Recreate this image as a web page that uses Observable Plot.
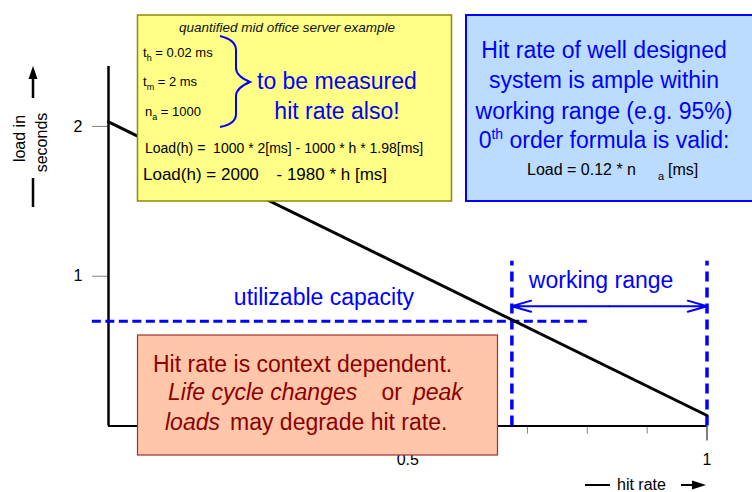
<!DOCTYPE html>
<html>
<head>
<meta charset="utf-8">
<script src="https://cdn.jsdelivr.net/npm/d3@7"></script>
<script src="https://cdn.jsdelivr.net/npm/@observablehq/plot@0.6"></script>
<style>
  html, body { margin: 0; padding: 0; background: #fff; }
  #wrap { position: relative; width: 752px; height: 492px; overflow: hidden; font-family: "Liberation Sans", Arial, sans-serif; }
  #wrap > svg { position: absolute; left: 0; top: 0; }
  #overlay { pointer-events: none; }
  #overlay text { font-family: "Liberation Sans", Arial, sans-serif; white-space: pre; }
</style>
</head>
<body>
<div id="wrap"></div>
<script>
// ---- data ----
const hitRate = [0, 1];                 // x: hit rate
const loadSeconds = [2.03, 0.07];       // y: load in seconds
const yTicks = [1, 2];
const xMajorTicks = [0.5, 1];
const xMinorTicks = [0.7, 0.8, 0.9];
const workingRange = [0.674, 1];        // hit-rate bounds of the working range
const workingRangeTop = 1.1;            // top of the dashed range markers
const workingArrowLevel = 0.80;
const capacityLevel = [0.70];           // utilizable capacity load
const capacitySpan = [-0.027, 0.80];
const labelWorking = {text: "working range", x: 0.823, y: 0.92};
const labelCapacity = {text: "utilizable capacity", x: 0.36, y: 0.81};

const lineData = hitRate.map((h, i) => ({h, load: loadSeconds[i]}));
const mid = (workingRange[0] + workingRange[1]) / 2;
const arrows = [
  {x1: mid, x2: workingRange[0], y: workingArrowLevel},
  {x1: mid, x2: workingRange[1], y: workingArrowLevel}
];
const fmt = d => String(d);

const chart = Plot.plot({
  width: 752,
  height: 492,
  marginLeft: 108,
  marginRight: 45.5,
  marginTop: 66,
  marginBottom: 66.5,
  x: {domain: [0, 1]},
  y: {domain: [0, 2.4]},
  style: {fontFamily: "'Liberation Sans', Arial, sans-serif", background: "white", overflow: "visible"},
  marks: [
    Plot.axisY(yTicks, {tickSize: 16, tickPadding: 10, stroke: "#808080", fill: "black", fontSize: 16, tickFormat: fmt, label: null}),
    Plot.axisX(xMinorTicks, {tickSize: 8, tickFormat: () => "", stroke: "#808080", label: null}),
    Plot.axisX(xMajorTicks, {tickSize: 15, tickPadding: 13, stroke: "black", fill: "black", fontSize: 16, tickFormat: fmt, label: null}),
    Plot.ruleY([0], {x1: 0, x2: 1, stroke: "black", strokeWidth: 2}),
    Plot.ruleX([0], {y1: 0, y2: 2.4, stroke: "black", strokeWidth: 2.5}),
    Plot.ruleY(capacityLevel, {x1: capacitySpan[0], x2: capacitySpan[1], stroke: "#0000ff", strokeWidth: 3, strokeDasharray: "9,4.5"}),
    Plot.ruleX(workingRange, {y1: 0, y2: workingRangeTop, stroke: "#0000ff", strokeWidth: 3.5, strokeDasharray: "10,6"}),
    Plot.arrow(arrows, {x1: "x1", x2: "x2", y1: "y", y2: "y", stroke: "#0000ff", strokeWidth: 2, headLength: 15, headAngle: 32}),
    Plot.line(lineData, {x: "h", y: "load", stroke: "black", strokeWidth: 3}),
    Plot.text([labelWorking, labelCapacity], {x: "x", y: "y", text: "text", fill: "#0000ff", fontSize: 23, lineAnchor: "bottom"})
  ]
});
document.getElementById("wrap").appendChild(chart);

// ---- annotation boxes and axis titles ----
const NS = "http://www.w3.org/2000/svg";
const overlay = document.createElementNS(NS, "svg");
overlay.setAttribute("id", "overlay");
overlay.setAttribute("width", 752);
overlay.setAttribute("height", 492);
overlay.innerHTML = `
  <!-- y axis title -->
  <text transform="translate(25,138.5) rotate(-90)" text-anchor="middle" font-size="16" fill="black">load in</text>
  <text transform="translate(46.5,142.5) rotate(-90)" text-anchor="middle" font-size="16" fill="black">seconds</text>
  <line x1="33" y1="98" x2="33" y2="76" stroke="black" stroke-width="2.5"/>
  <polygon points="33,66 28.5,79 37.5,79" fill="black"/>
  <line x1="33" y1="178" x2="33" y2="207" stroke="black" stroke-width="2.5"/>
  <!-- x axis title -->
  <line x1="585" y1="485" x2="610" y2="485" stroke="black" stroke-width="2"/>
  <text x="617" y="490" font-size="16" fill="black">hit rate</text>
  <line x1="681" y1="485" x2="694" y2="485" stroke="black" stroke-width="2"/>
  <polygon points="706,485 692,480.5 692,489.5" fill="black"/>

  <!-- yellow box -->
  <rect x="137.5" y="15" width="314" height="186" fill="#ffff88" stroke="#8c8c00" stroke-width="1.5"/>
  <text x="287" y="32" text-anchor="middle" font-size="13.5" font-style="italic" fill="#111">quantified mid office server example</text>
  <text x="143" y="56.5" font-size="13" fill="black">t<tspan font-size="9" dy="4">h</tspan><tspan dy="-4"> = 0.02 ms</tspan></text>
  <text x="143" y="86" font-size="13" fill="black">t<tspan font-size="9" dy="4">m</tspan><tspan dy="-4"> = 2 ms</tspan></text>
  <text x="145" y="116" font-size="13" fill="black">n<tspan font-size="9" dy="4">a</tspan><tspan dy="-4"> = 1000</tspan></text>
  <path d="M220,36 Q236,40 236,50 L236,68 Q236,76 250,82 Q236,88 236,96 L236,114 Q236,124 220,127" fill="none" stroke="#0000ff" stroke-width="2"/>
  <text x="257" y="89" font-size="23" fill="#0000ff">to be measured</text>
  <text x="337" y="119" text-anchor="middle" font-size="23" fill="#0000ff">hit rate also!</text>
  <text x="145" y="152.5" font-size="14" fill="black">Load(h) =  1000 * 2[ms] - 1000 * h * 1.98[ms]</text>
  <text y="180" font-size="17" fill="black"><tspan x="143">Load(h) = 2000</tspan><tspan x="276.5">- 1980 * h [ms]</tspan></text>

  <!-- blue box -->
  <rect x="466" y="15" width="300" height="186" fill="#bbdcff" stroke="#0000ff" stroke-width="2"/>
  <text x="604" y="58" text-anchor="middle" font-size="23" fill="#0000ff">Hit rate of well designed</text>
  <text x="604" y="88" text-anchor="middle" font-size="23" fill="#0000ff">system is ample within</text>
  <text x="604" y="119" text-anchor="middle" font-size="23" fill="#0000ff">working range (e.g. 95%)</text>
  <text x="604" y="148" text-anchor="middle" font-size="23" fill="#0000ff">0<tspan font-size="14" dy="-9">th</tspan><tspan dy="9"> order formula is valid:</tspan></text>
  <text y="175" font-size="16" fill="black"><tspan x="527">Load = 0.12 * n</tspan><tspan x="658" font-size="11" dy="5">a</tspan><tspan x="668" dy="-5">[ms]</tspan></text>

  <!-- pink box -->
  <rect x="137.5" y="335" width="360" height="120" fill="#ffc6aa" stroke="#a0302a" stroke-width="1.2"/>
  <text x="153" y="372" font-size="23" fill="#8b0000">Hit rate is context dependent.</text>
  <text y="400" font-size="23" fill="#8b0000"><tspan x="168" font-style="italic">Life cycle changes</tspan><tspan x="381.5">or</tspan><tspan x="413" font-style="italic">peak</tspan></text>
  <text y="430" font-size="23" fill="#8b0000"><tspan x="165" font-style="italic">loads</tspan><tspan x="230">may degrade hit rate.</tspan></text>
`;
document.getElementById("wrap").appendChild(overlay);
</script>
</body>
</html>
